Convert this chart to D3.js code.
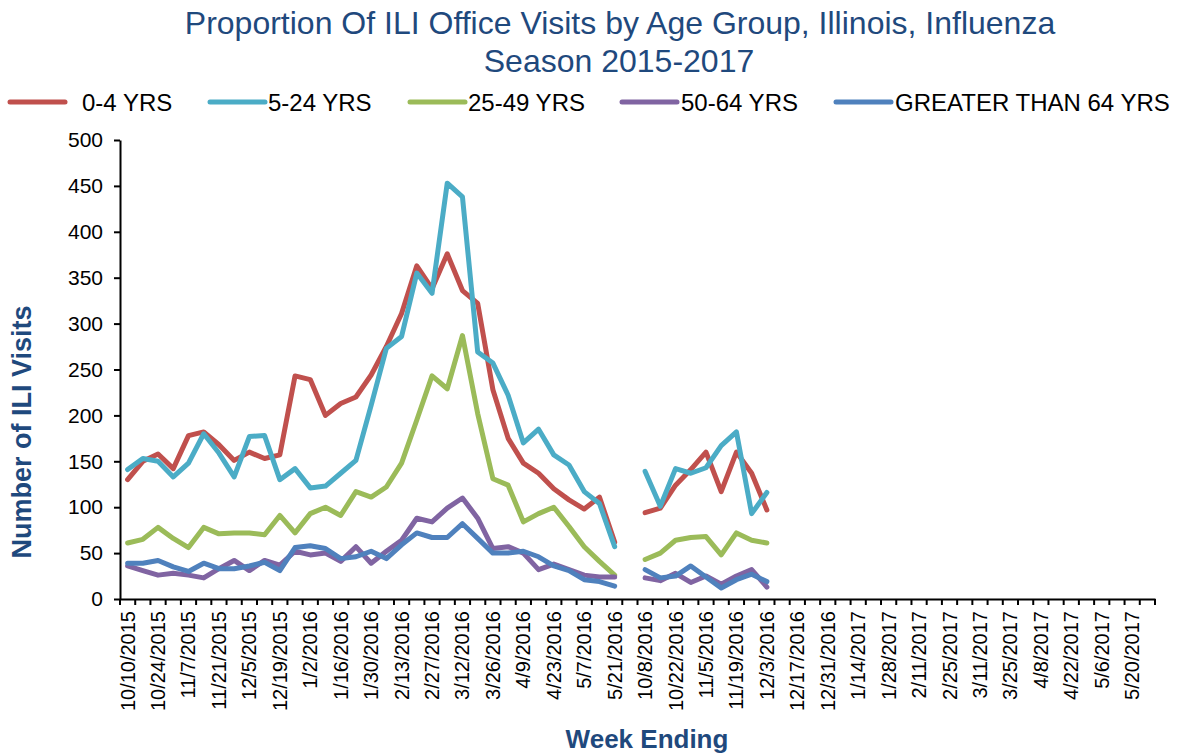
<!DOCTYPE html>
<html>
<head>
<meta charset="utf-8">
<script src="https://cdn.jsdelivr.net/npm/d3@7"></script>
<style>
  body { margin: 0; background: #fff; }
  svg { display: block; }
  text { font-family: "Liberation Sans", Arial, sans-serif; fill: #000; }
</style>
</head>
<body>
<svg id="chart" width="1179" height="755"></svg>
<script>
// ---------------- DATA ----------------
const categories = [
  "10/10/2015","10/17/2015","10/24/2015","10/31/2015","11/7/2015","11/14/2015","11/21/2015","11/28/2015",
  "12/5/2015","12/12/2015","12/19/2015","12/26/2015","1/2/2016","1/9/2016","1/16/2016","1/23/2016",
  "1/30/2016","2/6/2016","2/13/2016","2/20/2016","2/27/2016","3/5/2016","3/12/2016","3/19/2016",
  "3/26/2016","4/2/2016","4/9/2016","4/16/2016","4/23/2016","4/30/2016","5/7/2016","5/14/2016",
  "5/21/2016","5/28/2016",
  "10/8/2016","10/15/2016","10/22/2016","10/29/2016","11/5/2016","11/12/2016","11/19/2016","11/26/2016",
  "12/3/2016","12/10/2016","12/17/2016","12/24/2016","12/31/2016","1/7/2017","1/14/2017","1/21/2017",
  "1/28/2017","2/4/2017","2/11/2017","2/18/2017","2/25/2017","3/4/2017","3/11/2017","3/18/2017",
  "3/25/2017","4/1/2017","4/8/2017","4/15/2017","4/22/2017","4/29/2017","5/6/2017","5/13/2017",
  "5/20/2017","5/27/2017"
];

const tickLabels = [
  "10/10/2015","10/24/2015","11/7/2015","11/21/2015","12/5/2015","12/19/2015","1/2/2016","1/16/2016",
  "1/30/2016","2/13/2016","2/27/2016","3/12/2016","3/26/2016","4/9/2016","4/23/2016","5/7/2016",
  "5/21/2016","10/8/2016","10/22/2016","11/5/2016","11/19/2016","12/3/2016","12/17/2016","12/31/2016",
  "1/14/2017","1/28/2017","2/11/2017","2/25/2017","3/11/2017","3/25/2017","4/8/2017","4/22/2017",
  "5/6/2017","5/20/2017"
];

const yTicks = [0, 50, 100, 150, 200, 250, 300, 350, 400, 450, 500];

const seriesNames = ["0-4 YRS", "5-24 YRS", "25-49 YRS", "50-64 YRS", "GREATER THAN 64 YRS"];

// values by week (null = no report)
const age0to4 = [130,150,158,142,178,182,168,151,160,153,157,243,239,200,213,220,244,275,311,363,338,376,336,322,228,175,148,137,120,108,98,111,62,null,
                 94,99,124,141,160,117,160,137,97];
const age5to24 = [141,153,150,133,148,180,159,133,177,178,130,142,121,123,137,151,211,273,286,355,333,453,438,269,257,222,170,185,157,146,117,104,57,null,
                  139,101,142,137,143,167,182,93,116];
const age25to49 = [61,65,78,66,56,78,71,72,72,70,91,72,93,100,91,117,111,122,148,195,243,229,287,202,131,124,84,93,100,79,57,41,26,null,
                   43,50,64,67,68,48,72,64,61];
const age50to64 = [36,31,26,28,26,23,33,42,31,42,37,52,48,50,41,57,39,52,64,88,84,99,110,88,55,57,50,32,38,32,26,24,24,null,
                   23,20,28,18,25,16,25,32,13];
const age65plus = [39,39,42,35,30,39,33,33,36,40,31,56,58,55,44,46,52,44,59,72,67,67,82,66,50,50,52,46,36,31,21,19,14,null,
                   32,23,25,36,24,12,21,27,19];

const seriesColors = ["#C0504D", "#4BACC6", "#9BBB59", "#8064A2", "#4F81BD"];

// ---------------- LAYOUT ----------------
const svg = d3.select("#chart");
const plot = { left: 120, right: 1155, top: 140, bottom: 599 };
const titleColor = "#1F497D";

const x = d3.scaleBand().domain(categories).range([plot.left, plot.right]).padding(0);
const y = d3.scaleLinear().domain([0, 500]).range([plot.bottom, plot.top]);
const cx = c => x(c) + x.bandwidth() / 2;

// Title
const title = svg.append("text")
  .attr("x", 620).attr("text-anchor", "middle")
  .style("font-size", "32px").style("fill", titleColor);
title.append("tspan").attr("x", 620).attr("y", 34)
  .text("Proportion Of ILI Office Visits by Age Group, Illinois, Influenza");
title.append("tspan").attr("x", 619).attr("y", 72).text("Season 2015-2017");

// Legend
const legendLineX = [10, 210, 410, 622, 836];
const legendTextX = [82, 268, 468, 681, 895];
const legend = svg.append("g");
seriesNames.forEach((name, i) => {
  legend.append("line")
    .attr("x1", legendLineX[i]).attr("x2", legendLineX[i] + 55)
    .attr("y1", 102).attr("y2", 102)
    .attr("stroke", seriesColors[i]).attr("stroke-width", 5)
    .attr("stroke-linecap", "round");
  legend.append("text")
    .attr("x", legendTextX[i]).attr("y", 111)
    .style("font-size", "24px").text(name);
});

// Y axis
const yAxis = svg.append("g")
  .attr("transform", `translate(${plot.left},0)`)
  .call(d3.axisLeft(y).tickValues(yTicks).tickSize(6).tickSizeOuter(0).tickPadding(11));
yAxis.select(".domain").attr("stroke", "#000").attr("stroke-width", 2);
yAxis.selectAll(".tick line").attr("stroke", "#000").attr("stroke-width", 2);
yAxis.selectAll(".tick text")
  .style("font-size", "21px").style("font-family", "'Liberation Sans', Arial, sans-serif").attr("fill", "#000");

// X axis (labels at every other category, tick marks between categories)
const xAxis = svg.append("g")
  .attr("transform", `translate(0,${plot.bottom})`)
  .call(d3.axisBottom(x).tickValues(tickLabels).tickSize(0).tickSizeOuter(0));
xAxis.select(".domain").attr("stroke", "#000").attr("stroke-width", 2);
xAxis.selectAll(".tick text")
  .attr("transform", "rotate(-90)")
  .attr("x", -12).attr("y", 0).attr("dy", "0.35em")
  .attr("text-anchor", "end")
  .style("font-size", "20px").style("font-family", "'Liberation Sans', Arial, sans-serif").attr("fill", "#000");

const tickPositions = categories.map(c => x(c)).concat([x.range()[1]]);
xAxis.selectAll(".cat-tick").data(tickPositions).enter().append("line")
  .attr("class", "cat-tick")
  .attr("x1", d => d).attr("x2", d => d)
  .attr("y1", 0).attr("y2", 6)
  .attr("stroke", "#000").attr("stroke-width", 2);

// Axis titles
svg.append("text")
  .attr("transform", "translate(31,432) rotate(-90)")
  .attr("text-anchor", "middle")
  .style("font-size", "27px").style("font-weight", "bold").style("fill", titleColor)
  .text("Number of ILI Visits");
svg.append("text")
  .attr("x", 647).attr("y", 748)
  .attr("text-anchor", "middle")
  .style("font-size", "26px").style("font-weight", "bold").style("fill", titleColor)
  .text("Week Ending");

// Lines
const allSeries = [age0to4, age5to24, age25to49, age50to64, age65plus];
const line = d3.line()
  .defined(d => d.v !== null)
  .x(d => cx(d.c))
  .y(d => y(d.v));

allSeries.forEach((vals, i) => {
  const pts = vals.map((v, j) => ({ c: categories[j], v: v }));
  svg.append("path")
    .datum(pts)
    .attr("fill", "none")
    .attr("stroke", seriesColors[i])
    .attr("stroke-width", 5)
    .attr("stroke-linejoin", "round")
    .attr("stroke-linecap", "round")
    .attr("d", line);
});
</script>
</body>
</html>
